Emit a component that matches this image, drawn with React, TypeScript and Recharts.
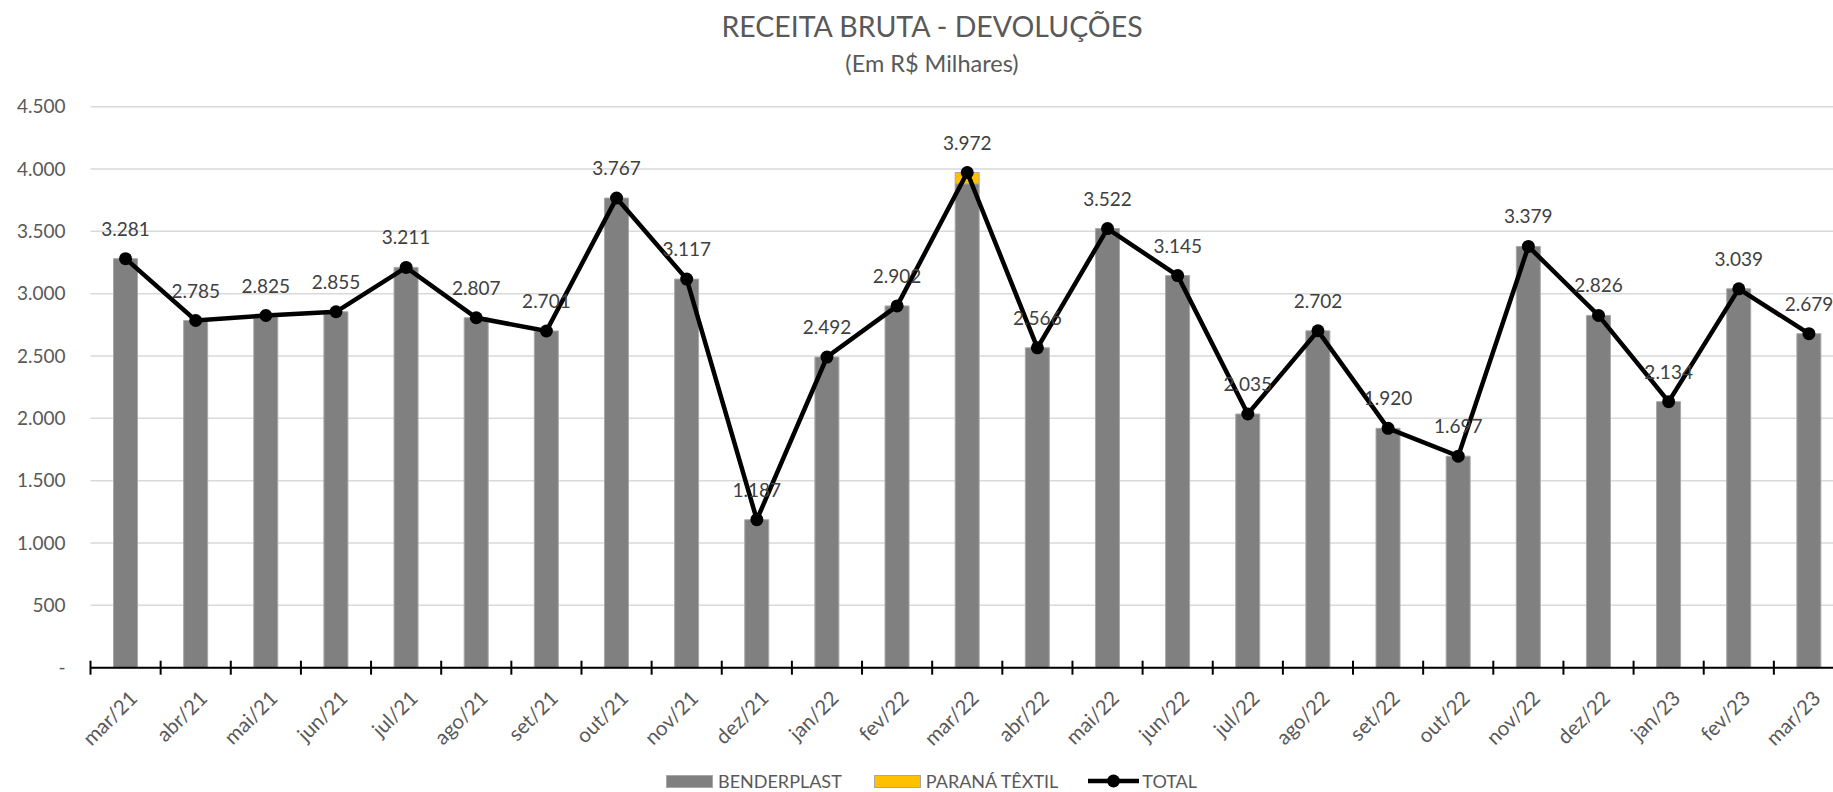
import React from "react"
import { ComposedChart, Bar, Line, XAxis, YAxis, CartesianGrid, LabelList } from "recharts"

const months = [
  "mar/21", "abr/21", "mai/21", "jun/21", "jul/21", "ago/21", "set/21", "out/21", "nov/21", "dez/21",
  "jan/22", "fev/22", "mar/22", "abr/22", "mai/22", "jun/22", "jul/22", "ago/22", "set/22", "out/22",
  "nov/22", "dez/22", "jan/23", "fev/23", "mar/23",
]

const benderplast = [
  3281, 2785, 2825, 2855, 3211, 2807, 2701, 3767, 3117, 1187,
  2492, 2902, 3882, 2566, 3522, 3145, 2035, 2702, 1920, 1697,
  3379, 2826, 2134, 3039, 2679,
]

const paranaTextil = [
  0, 0, 0, 0, 0, 0, 0, 0, 0, 0,
  0, 0, 90, 0, 0, 0, 0, 0, 0, 0,
  0, 0, 0, 0, 0,
]

const total = [
  3281, 2785, 2825, 2855, 3211, 2807, 2701, 3767, 3117, 1187,
  2492, 2902, 3972, 2566, 3522, 3145, 2035, 2702, 1920, 1697,
  3379, 2826, 2134, 3039, 2679,
]

const yTicks = [0, 500, 1000, 1500, 2000, 2500, 3000, 3500, 4000, 4500]

const data = months.map((m, i) => ({
  month: m,
  benderplast: benderplast[i],
  parana: paranaTextil[i],
  total: total[i],
}))

// layout
const CHART_W = 1850
const CHART_H = 792
const PLOT_LEFT = 90.5
const PLOT_RIGHT = 1844
const PLOT_TOP = 106.7
const PLOT_BOTTOM = 667.7
const XAXIS_H = 80
const BAND = (PLOT_RIGHT - PLOT_LEFT) / months.length

const FONT = "Lato, 'Noto Sans', sans-serif"
const AXIS_TEXT = "#595959"
const LABEL_TEXT = "#404040"

const fmt = (v: number) => (v === 0 ? "-" : String(v).replace(/\B(?=(\d{3})+(?!\d))/g, "."))

const MonthTick = (props: any) => {
  const { x, y, payload } = props
  const half = BAND / 2
  const tx = x + 13
  const ty = y + 32
  return (
    <g>
      <line x1={x - half} x2={x - half} y1={y - 7} y2={y + 7} stroke="#000" strokeWidth={2} />
      {payload.index === months.length - 1 && (
        <line x1={x + half} x2={x + half} y1={y - 7} y2={y + 7} stroke="#000" strokeWidth={2} />
      )}
      <text
        x={tx}
        y={ty}
        textAnchor="end"
        transform={`rotate(-45, ${tx}, ${ty})`}
        fill={AXIS_TEXT}
        fontSize={20.5}
        fontFamily={FONT}
      >
        {payload.value}
      </text>
    </g>
  )
}

const TotalLabel = (props: any) => {
  const { x, y, value } = props
  return (
    <text x={x} y={y - 23} textAnchor="middle" fill={LABEL_TEXT} fontSize={19} fontFamily={FONT}>
      {fmt(value)}
    </text>
  )
}

const legendText: React.CSSProperties = { fontSize: 18, color: AXIS_TEXT, fontFamily: FONT, lineHeight: "18px" }

export default function App() {
  return (
    <div
      style={{
        position: "fixed",
        left: 0,
        top: 0,
        width: 1833,
        height: 792,
        overflow: "hidden",
        background: "#fff",
        fontFamily: FONT,
      }}
    >
      <div
        style={{
          position: "absolute",
          left: 0,
          width: 1864,
          top: 12,
          textAlign: "center",
          fontSize: 28.5,
          lineHeight: "28px",
          color: AXIS_TEXT,
        }}
      >
        RECEITA BRUTA - DEVOLUÇÕES
      </div>
      <div
        style={{
          position: "absolute",
          left: 0,
          width: 1864,
          top: 52,
          textAlign: "center",
          fontSize: 23.5,
          lineHeight: "23px",
          color: AXIS_TEXT,
        }}
      >
        (Em R$ Milhares)
      </div>

      <div style={{ position: "absolute", left: 0, top: 0 }}>
        <ComposedChart
          width={CHART_W}
          height={CHART_H}
          data={data}
          margin={{
            top: PLOT_TOP,
            left: 0,
            right: CHART_W - PLOT_RIGHT,
            bottom: CHART_H - PLOT_BOTTOM - XAXIS_H,
          }}
          barGap={0}
        >
          <CartesianGrid vertical={false} stroke="#d9d9d9" strokeWidth={1.5} />
          <XAxis
            dataKey="month"
            interval={0}
            height={XAXIS_H}
            tickSize={0}
            tickMargin={0}
            tick={<MonthTick />}
            axisLine={{ stroke: "#000", strokeWidth: 2 }}
          />
          <YAxis
            width={PLOT_LEFT}
            domain={[0, 4500]}
            ticks={yTicks}
            interval={0}
            axisLine={false}
            tickLine={false}
            tickSize={0}
            tickMargin={25}
            tickFormatter={fmt}
            tick={{ fill: AXIS_TEXT, fontSize: 19, fontFamily: FONT }}
          />
          <Bar
            dataKey="benderplast"
            stackId="a"
            fill="#808080"
            stroke="#a8a8a8"
            strokeWidth={1}
            barSize={24}
            isAnimationActive={false}
          />
          <Bar
            dataKey="parana"
            stackId="a"
            fill="#FFC000"
            stroke="#a8a8a8"
            strokeWidth={1}
            barSize={24}
            isAnimationActive={false}
          />
          <Line
            type="linear"
            dataKey="total"
            stroke="#000"
            strokeWidth={4.5}
            dot={{ r: 6.5, fill: "#000", stroke: "#000", strokeWidth: 0 }}
            activeDot={false}
            isAnimationActive={false}
          >
            <LabelList dataKey="total" content={<TotalLabel />} />
          </Line>
        </ComposedChart>
      </div>

      <div style={{ position: "absolute", left: 666, top: 772, display: "flex", alignItems: "center", height: 18 }}>
        <div style={{ width: 45, height: 11, background: "#808080", border: "1px solid #a8a8a8", marginRight: 5 }} />
        <span style={legendText}>BENDERPLAST</span>
        <div
          style={{ width: 45, height: 11, background: "#FFC000", border: "1px solid #a8a8a8", marginLeft: 32, marginRight: 5 }}
        />
        <span style={legendText}>PARANÁ TÊXTIL</span>
        <svg width={51} height={16} style={{ marginLeft: 30, marginRight: 3 }}>
          <line x1={0} x2={51} y1={8} y2={8} stroke="#000" strokeWidth={4.5} />
          <circle cx={25.5} cy={8} r={6.5} fill="#000" />
        </svg>
        <span style={legendText}>TOTAL</span>
      </div>
    </div>
  )
}
